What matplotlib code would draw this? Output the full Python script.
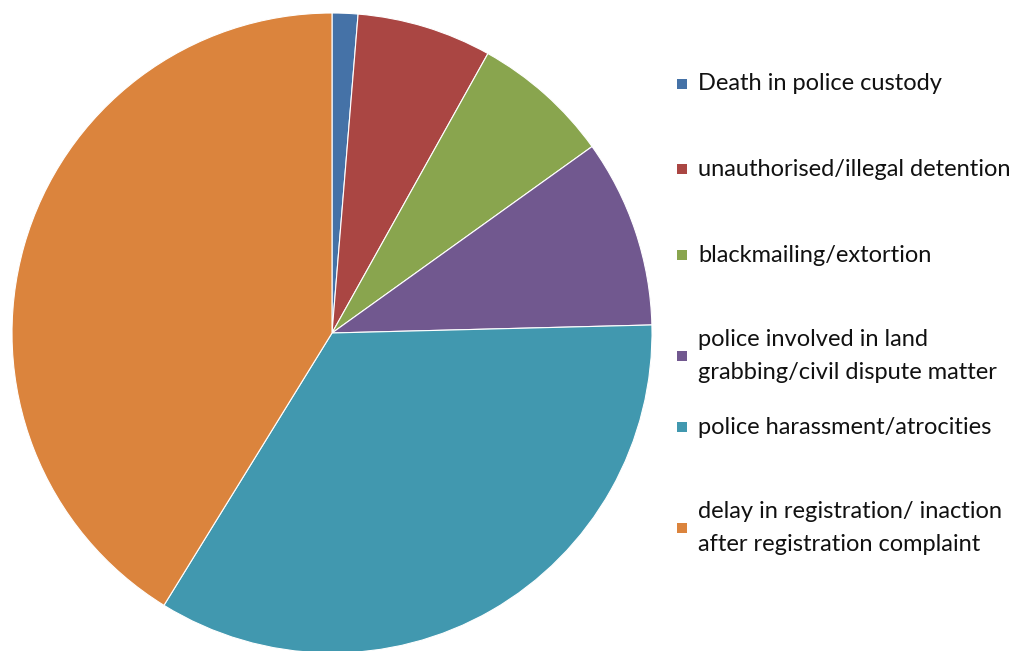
import matplotlib
matplotlib.use("Agg")
import matplotlib.pyplot as plt
from matplotlib.patches import Rectangle

plt.rcParams['font.family'] = ['Lato', 'DejaVu Sans']

categories = [
    "Death in police custody",
    "unauthorised/illegal detention",
    "blackmailing/extortion",
    "police involved in land\ngrabbing/civil dispute matter",
    "police harassment/atrocities",
    "delay in registration/ inaction\nafter registration complaint",
]
shares = [1.3, 6.8, 7.0, 9.5, 34.2, 41.2]
colors = ["#4572A7", "#AA4643", "#89A54E", "#71588F", "#4198AF", "#DB843D"]

# legend rows (pixel y of text centre, from top)
legend_y = [84, 169, 255, 356, 427, 528]

W, H = 1026, 651
fig = plt.figure(figsize=(W / 100, H / 100), dpi=100)
ax = fig.add_axes([12 / W, (H - 653) / H, 640 / W, 640 / H])
ax.pie(shares, colors=colors, startangle=90, counterclock=False,
       wedgeprops=dict(edgecolor="white", linewidth=0.8))
ax.set_aspect("equal")
ax.set_xlim(-1, 1)
ax.set_ylim(-1, 1)
ax.axis("off")

for label, col, yc in zip(categories, colors, legend_y):
    fy = (H - yc) / H
    fig.patches.append(Rectangle((677 / W, fy - 5 / H), 10 / W, 10 / H,
                                 transform=fig.transFigure, facecolor=col,
                                 edgecolor="none"))
    fig.text(698 / W, fy, label, ha="left", va="center", fontsize=17,
             color="#111111", linespacing=1.65)

fig.savefig("out.png", dpi=100)
